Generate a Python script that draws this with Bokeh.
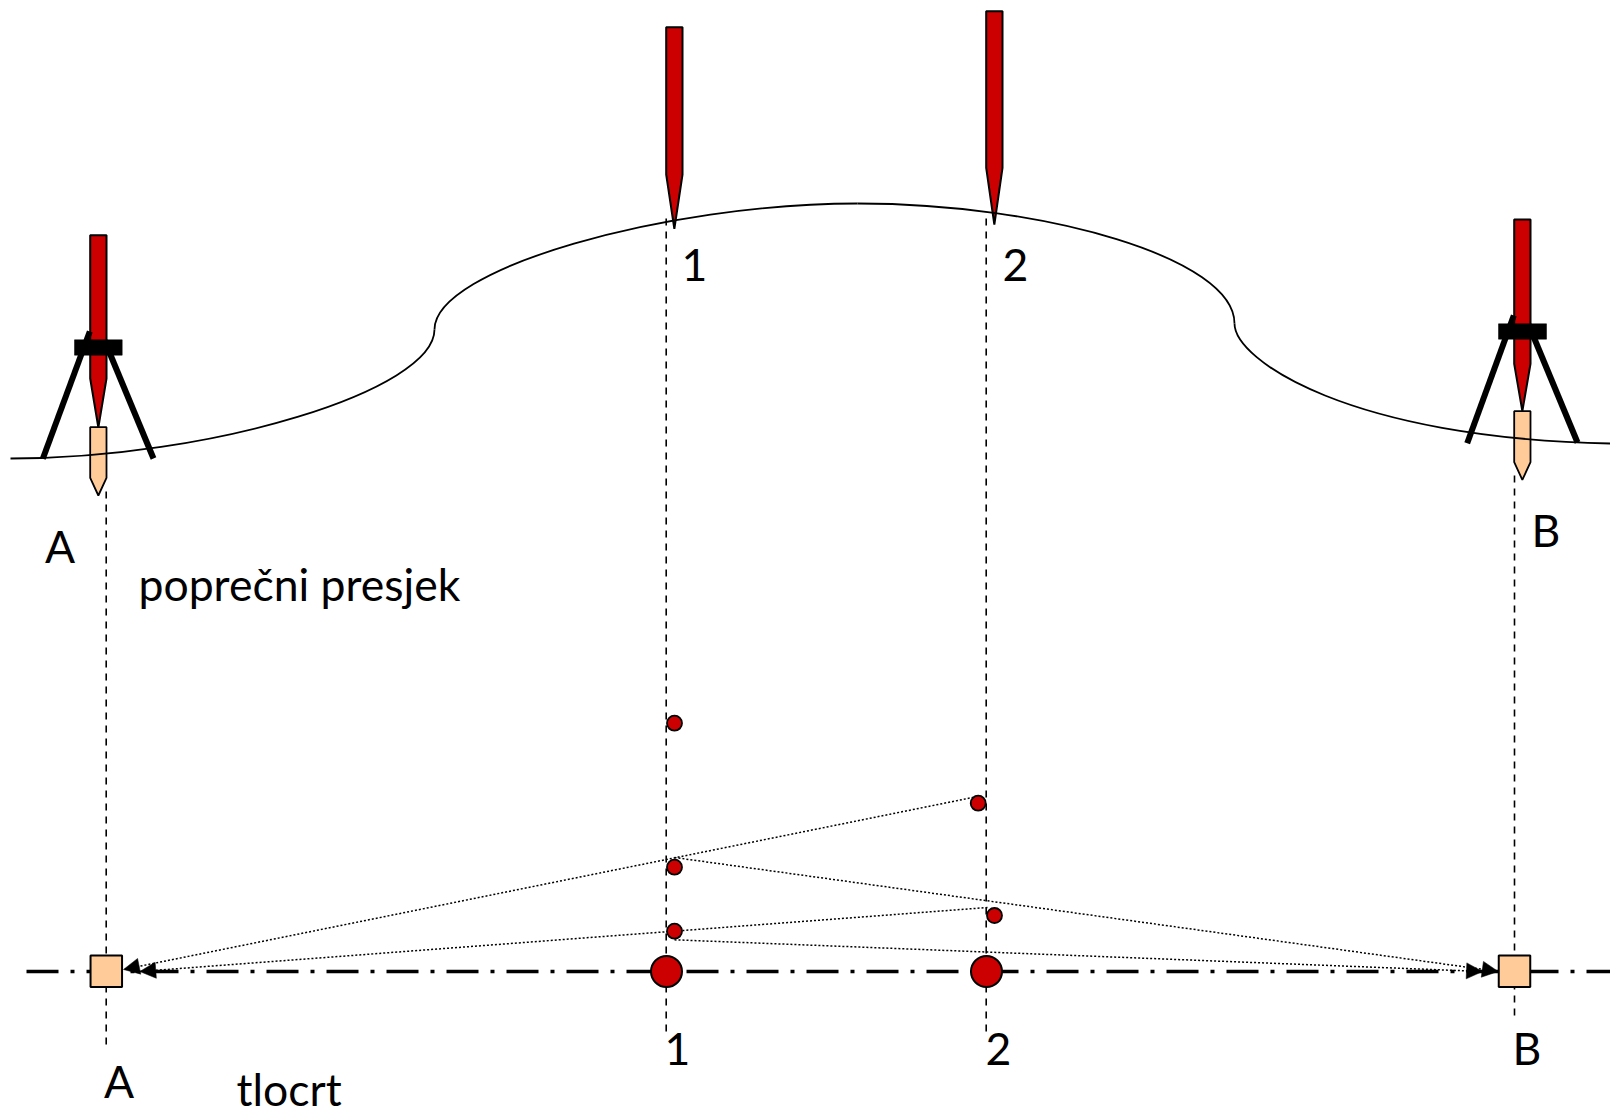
from math import hypot
from bokeh.plotting import figure
from bokeh.models import Range1d
from bokeh.core.properties import value
from bokeh.embed import file_html
from bokeh.resources import INLINE

RED = "#CC0000"
PEG = "#FFCC99"
FONT = "Lato"

# ground profile: cubic segments
g_x0 = [10, 434, 857, 1234]
g_y0 = [458, 329, 203, 323]
g_cx0 = [210, 434, 1045, 1234]
g_cy0 = [458, 268, 203, 360]
g_cx1 = [434, 665, 1234, 1350]
g_cy1 = [390, 203, 258, 438]
g_x1 = [434, 857, 1234, 1610]
g_y1 = [329, 203, 323, 443]

# ranging poles
pole_l = [89.7, 665.7, 985.7, 1513.7]
pole_r = [106, 682, 1002, 1530]
pole_top = [234.7, 26.7, 10.7, 219]
pole_sh = [378, 174, 167.3, 363.3]
pole_tip = [427, 228.3, 224, 410.7]

# pegs
peg_l = [89.7, 1513.7]
peg_r = [106, 1530]
peg_top = [426.7, 410.7]
peg_sh = [477.3, 461.7]
peg_tip = [495, 479.3]

# tripod
bar_l = [74, 1498]
bar_r = [121.7, 1546]
bar_t = [339.3, 323.3]
bar_b = [354.7, 338.7]
leg_x0 = [89.3, 104, 1513.3, 1528]
leg_y0 = [331, 340, 315, 324]
leg_x1 = [42.3, 153, 1466.7, 1577]
leg_y1 = [458.3, 458, 442.7, 442]

# projection lines
v_x = [105.7, 665.7, 985.7, 1514]
v_y0 = [491, 218, 218, 475]
v_y1 = [1045, 1032, 1032, 1015]

# axis
axis_x = [26, 1610]
axis_y = [971, 971]

# plan points
big_x = [666, 986]
big_y = [971, 971]
small_x = [674, 977.7, 674, 994, 674]
small_y = [722.7, 802.7, 866.7, 915, 930.7]

# plan squares
sq_x = [105.8, 1514]
sq_y = [970.8, 970.8]

# sight lines
s_x0 = [977, 987, 674, 674]
s_y0 = [796, 907, 857, 939.3]
s_x1 = [123, 139.3, 1497.7, 1482]
s_y1 = [969, 971, 971, 971]
HEAD = 16

# labels
lab_text = ["1", "2", "A", "B", "poprečni presjek", "1", "2", "B", "A", "tlocrt"]
lab_x = [681, 1002, 44.5, 1531, 138, 664, 985, 1512, 103.5, 236]
lab_y = [264.7, 264.7, 545, 529, 583, 1048, 1048, 1047, 1079.7, 1088]

p = figure(width=1610, height=1110, x_range=Range1d(0, 1610), y_range=Range1d(1110, 0),
           output_backend="svg", toolbar_location=None, min_border=0)
p.axis.visible = False
p.grid.visible = False
p.outline_line_color = None
p.background_fill_color = "white"

p.segment(v_x, v_y0, v_x, v_y1, line_color="black", line_width=1.6, line_dash="7 6")

p.line(axis_x, axis_y, line_color="black", line_width=3.6, line_dash="32 12 4 12")

peg_xs = [[l, r, r, (l + r) / 2, l, l] for l, r in zip(peg_l, peg_r)]
peg_ys = [[t, t, s, e, s, t] for t, s, e in zip(peg_top, peg_sh, peg_tip)]
p.patches(peg_xs, peg_ys, fill_color=PEG, line_color="black", line_width=1.8)

pole_xs = [[l, r, r, (l + r) / 2, l, l] for l, r in zip(pole_l, pole_r)]
pole_ys = [[t, t, s, e, s, t] for t, s, e in zip(pole_top, pole_sh, pole_tip)]
p.patches(pole_xs, pole_ys, fill_color=RED, line_color="black", line_width=2)

p.segment(leg_x0, leg_y0, leg_x1, leg_y1, line_color="black", line_width=6)
p.quad(left=bar_l, right=bar_r, top=bar_t, bottom=bar_b, fill_color="black", line_color="black", line_width=0.5)

p.bezier(g_x0, g_y0, g_x1, g_y1, g_cx0, g_cy0, g_cx1, g_cy1, line_color="black", line_width=1.8)

p.segment(s_x0, s_y0, s_x1, s_y1, line_color="black", line_width=1.5, line_dash="2 2")
head_xs, head_ys = [], []
for x0, y0, x1, y1 in zip(s_x0, s_y0, s_x1, s_y1):
    d = hypot(x1 - x0, y1 - y0)
    ux, uy = (x1 - x0) / d, (y1 - y0) / d
    bx, by = x1 - ux * HEAD, y1 - uy * HEAD
    head_xs.append([x1, bx - uy * HEAD / 2, bx + uy * HEAD / 2])
    head_ys.append([y1, by + ux * HEAD / 2, by - ux * HEAD / 2])
p.patches(head_xs, head_ys, fill_color="black", line_color="black", line_width=0.5)

p.scatter(sq_x, sq_y, marker="square", size=31.5, fill_color=PEG, line_color="black", line_width=2)
p.scatter(big_x, big_y, marker="circle", size=31, fill_color=RED, line_color="black", line_width=2)
p.scatter(small_x, small_y, marker="circle", size=15, fill_color=RED, line_color="black", line_width=1.8)

p.text(lab_x, lab_y, text=lab_text, text_font=value(FONT), text_font_size="44.5px",
       text_color="black", text_align="left", text_baseline="alphabetic")

open("out.html", "w").write(file_html(p, INLINE))
